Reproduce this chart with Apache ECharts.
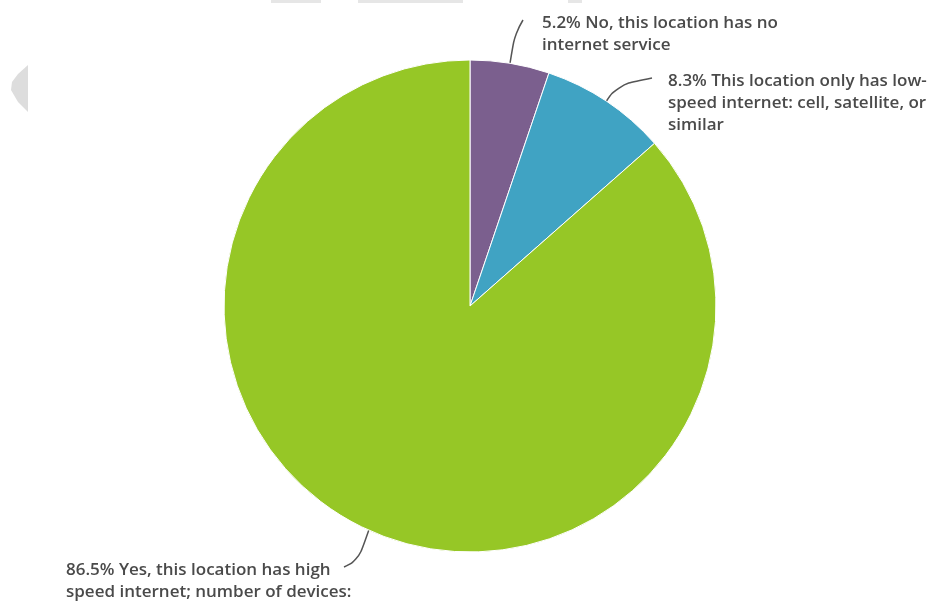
<!DOCTYPE html>
<html>
<head>
<meta charset="utf-8">
<script src="https://cdn.jsdelivr.net/npm/echarts@6/dist/echarts.min.js"></script>
<style>
  html, body { margin: 0; padding: 0; background: #ffffff; }
  #chart { width: 934px; height: 602px; }
</style>
</head>
<body>
<div id="chart"></div>
<script>
// Internet access at the location
const categories = [
  'No, this location has no internet service',
  'This location only has low-speed internet: cell, satellite, or similar',
  'Yes, this location has high speed internet; number of devices:'
];
const shares = [5.2, 8.3, 86.5];
const sliceColors = ['#7b5f8e', '#40a3c3', '#96c726'];
// label text, wrapped as shown on the slice callouts
const labelLines = [
  ['5.2% No, this location has no', 'internet service'],
  ['8.3% This location only has low-', 'speed internet: cell, satellite, or', 'similar'],
  ['86.5% Yes, this location has high', 'speed internet; number of devices:']
];
// callout placement: text block (left, top), leader bend and leader end
const labelSpots = [
  { x: 542, y: 12, bend: [515, 33], end: [523, 20] },
  { x: 668, y: 70, bend: [617, 85], end: [652, 78] },
  { x: 66, y: 559, bend: [358, 561], end: [344, 567] }
];

const chart = echarts.init(document.getElementById('chart'), null, { renderer: 'canvas' });

const data = categories.map((name, i) => ({
  name: name,
  value: shares[i],
  itemStyle: { color: sliceColors[i] },
  label: { formatter: labelLines[i].join('\n') }
}));

chart.setOption({
  animation: false,
  backgroundColor: '#ffffff',
  graphic: [
    // faint page chrome peeking in at the edges
    { type: 'rect', shape: { x: 271, y: 0, width: 50, height: 3 }, style: { fill: '#e6e6e6' } },
    { type: 'rect', shape: { x: 358, y: 0, width: 105, height: 3 }, style: { fill: '#e6e6e6' } },
    { type: 'rect', shape: { x: 568, y: 0, width: 14, height: 3 }, style: { fill: '#e6e6e6' } },
    { type: 'polygon', shape: { points: [[28, 65], [28, 112], [18, 102], [11, 90], [12, 82], [18, 74]] },
      style: { fill: '#dddddd' } }
  ],
  series: [{
    type: 'pie',
    center: [470, 306],
    radius: 246,
    startAngle: 90,
    clockwise: true,
    itemStyle: { borderColor: '#ffffff', borderWidth: 1 },
    label: {
      show: true,
      position: 'outside',
      color: '#4a4a4a',
      fontFamily: 'Open Sans',
      fontWeight: 600,
      fontSize: 17,
      lineHeight: 22,
      align: 'left',
      verticalAlign: 'top',
      overflow: 'none',
      edgeDistance: 0,
      bleedMargin: 0
    },
    labelLine: {
      show: true,
      smooth: 0.5,
      lineStyle: { color: '#555555', width: 1.5 }
    },
    labelLayout: function (params) {
      const spot = labelSpots[params.dataIndex];
      const start = params.labelLinePoints ? params.labelLinePoints[0] : spot.bend;
      return {
        x: spot.x,
        y: spot.y,
        align: 'left',
        verticalAlign: 'top',
        width: 300,
        labelLinePoints: [start, spot.bend, spot.end]
      };
    },
    data: data
  }]
});
</script>
</body>
</html>
